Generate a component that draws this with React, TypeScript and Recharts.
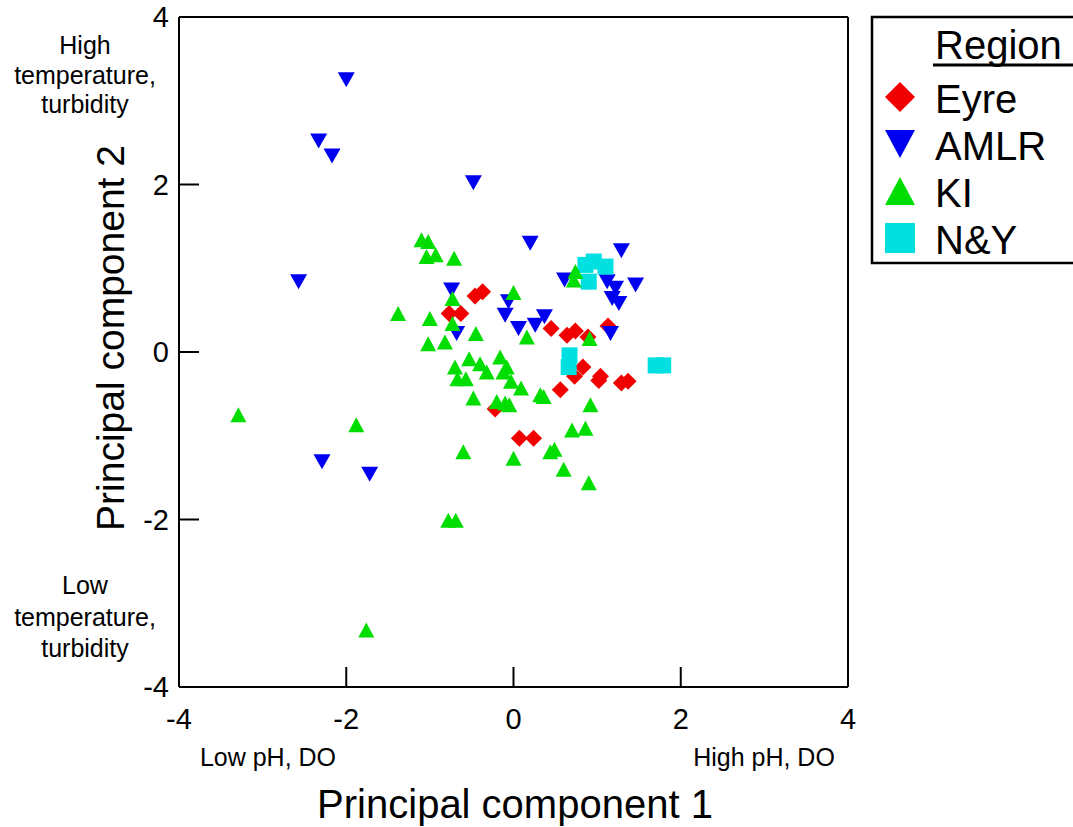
import { ScatterChart, Scatter, XAxis, YAxis, Customized } from 'recharts'

const FONT = '"Liberation Sans", Arial, Helvetica, sans-serif'

// axis ticks shared by all four sides of the frame
const axisTicks = [-4, -2, 0, 2, 4]

// PCA scores read off the figure, one list per region
const eyre = [
  { x: -0.46, y: 0.67 }, { x: -0.37, y: 0.72 }, { x: -0.77, y: 0.46 }, { x: -0.63, y: 0.46 },
  { x: 0.45, y: 0.28 }, { x: 0.64, y: 0.2 }, { x: 0.74, y: 0.25 }, { x: 0.89, y: 0.18 },
  { x: 1.13, y: 0.31 }, { x: 0.83, y: -0.18 }, { x: 0.73, y: -0.29 }, { x: 1.04, y: -0.29 },
  { x: 1.02, y: -0.34 }, { x: 1.29, y: -0.37 }, { x: 1.37, y: -0.35 }, { x: 0.56, y: -0.45 },
  { x: -0.22, y: -0.68 }, { x: 0.07, y: -1.03 }, { x: 0.24, y: -1.03 },
]

const amlr = [
  { x: -2.0, y: 3.25 }, { x: -2.33, y: 2.52 }, { x: -2.17, y: 2.34 }, { x: -0.48, y: 2.02 },
  { x: -2.57, y: 0.84 }, { x: 0.2, y: 1.3 }, { x: 1.29, y: 1.21 }, { x: 0.61, y: 0.86 },
  { x: 1.12, y: 0.84 }, { x: 1.22, y: 0.76 }, { x: 1.46, y: 0.8 }, { x: 1.18, y: 0.64 },
  { x: 1.26, y: 0.58 }, { x: -0.74, y: 0.74 }, { x: -0.06, y: 0.6 }, { x: -0.1, y: 0.44 },
  { x: 0.06, y: 0.28 }, { x: 0.26, y: 0.32 }, { x: 0.37, y: 0.42 }, { x: -0.68, y: 0.22 },
  { x: 1.16, y: 0.22 }, { x: -2.29, y: -1.31 }, { x: -1.72, y: -1.46 },
]

const ki = [
  { x: -3.29, y: -0.75 }, { x: -1.88, y: -0.87 }, { x: -0.78, y: -2.01 }, { x: -0.69, y: -2.01 },
  { x: -1.76, y: -3.32 }, { x: -0.6, y: -1.19 }, { x: -1.1, y: 1.34 }, { x: -1.02, y: 1.32 },
  { x: -1.04, y: 1.14 }, { x: -0.93, y: 1.16 }, { x: -0.71, y: 1.12 }, { x: 0.74, y: 0.96 },
  { x: 0.72, y: 0.86 }, { x: -0.73, y: 0.64 }, { x: 0.0, y: 0.71 }, { x: -1.38, y: 0.46 },
  { x: -1.0, y: 0.4 }, { x: -0.73, y: 0.34 }, { x: -1.02, y: 0.1 }, { x: -0.82, y: 0.12 },
  { x: -0.45, y: 0.22 }, { x: 0.16, y: 0.18 }, { x: 0.91, y: 0.16 }, { x: -0.7, y: -0.18 },
  { x: -0.53, y: -0.08 }, { x: -0.4, y: -0.14 }, { x: -0.32, y: -0.24 }, { x: -0.16, y: -0.06 },
  { x: -0.08, y: -0.18 }, { x: -0.12, y: -0.24 }, { x: -0.03, y: -0.35 }, { x: -0.67, y: -0.32 },
  { x: -0.57, y: -0.32 }, { x: 0.09, y: -0.43 }, { x: -0.48, y: -0.55 }, { x: -0.2, y: -0.59 },
  { x: -0.1, y: -0.61 }, { x: -0.05, y: -0.63 }, { x: 0.32, y: -0.51 }, { x: 0.36, y: -0.53 },
  { x: 0.92, y: -0.63 }, { x: 0.7, y: -0.93 }, { x: 0.86, y: -0.91 }, { x: 0.0, y: -1.27 },
  { x: 0.44, y: -1.19 }, { x: 0.49, y: -1.16 }, { x: 0.6, y: -1.4 }, { x: 0.9, y: -1.56 },
]

const ny = [
  { x: 0.86, y: 1.04 }, { x: 0.96, y: 1.08 }, { x: 1.1, y: 1.02 }, { x: 0.9, y: 0.84 },
  { x: 0.67, y: -0.04 }, { x: 0.66, y: -0.18 }, { x: 1.7, y: -0.16 }, { x: 1.79, y: -0.16 },
]

const RED = '#f00000'
const BLUE = '#0000f0'
const GREEN = '#00dd00'
const CYAN = '#00e0e0'

// marker paths, s = full width of the marker
const diamondPath = (cx: number, cy: number, s: number) =>
  `M${cx},${cy - s / 2}L${cx + s / 2},${cy}L${cx},${cy + s / 2}L${cx - s / 2},${cy}Z`
const upPath = (cx: number, cy: number, s: number, h: number) =>
  `M${cx},${cy - h / 2}L${cx + s / 2},${cy + h / 2}L${cx - s / 2},${cy + h / 2}Z`
const downPath = (cx: number, cy: number, s: number, h: number) =>
  `M${cx},${cy + h / 2}L${cx + s / 2},${cy - h / 2}L${cx - s / 2},${cy - h / 2}Z`

const DiamondDot = (p: any) => <path d={diamondPath(p.cx, p.cy, 17)} fill={RED} />
const DownDot = (p: any) => <path d={downPath(p.cx, p.cy, 17, 15)} fill={BLUE} />
const UpDot = (p: any) => <path d={upPath(p.cx, p.cy, 16, 15)} fill={GREEN} />
const SquareDot = (p: any) => <rect x={p.cx - 8} y={p.cy - 8} width={16} height={16} fill={CYAN} />

const TICK = 20

const BottomTick = ({ x, y, payload }: any) => (
  <g>
    <line x1={x} y1={y} x2={x} y2={y - TICK} stroke="#000" strokeWidth={2} />
    <text x={x} y={y + 32} dy="0.35em" textAnchor="middle" fontSize={29} fontFamily={FONT} fill="#000">
      {payload.value}
    </text>
  </g>
)
const TopTick = ({ x, y }: any) => (
  <line x1={x} y1={y} x2={x} y2={y + TICK} stroke="#000" strokeWidth={2} />
)
const LeftTick = ({ x, y, payload }: any) => (
  <g>
    <line x1={x} y1={y} x2={x + TICK} y2={y} stroke="#000" strokeWidth={2} />
    <text x={x - 10} y={y} dy="0.35em" textAnchor="end" fontSize={29} fontFamily={FONT} fill="#000">
      {payload.value}
    </text>
  </g>
)
const RightTick = ({ x, y }: any) => (
  <line x1={x} y1={y} x2={x - TICK} y2={y} stroke="#000" strokeWidth={2} />
)

const legendItems = [
  { name: 'Eyre', kind: 'diamond', color: RED },
  { name: 'AMLR', kind: 'down', color: BLUE },
  { name: 'KI', kind: 'up', color: GREEN },
  { name: 'N&Y', kind: 'square', color: CYAN },
]

const Annotations = () => {
  const t = { fontFamily: FONT, fill: '#000' }
  return (
    <g>
      <text x={85} textAnchor="middle" fontSize={25} {...t}>
        <tspan x={85} y={54}>High</tspan>
        <tspan x={85} y={84}>temperature,</tspan>
        <tspan x={85} y={113}>turbidity</tspan>
      </text>
      <text x={85} textAnchor="middle" fontSize={25} {...t}>
        <tspan x={85} y={594}>Low</tspan>
        <tspan x={85} y={626}>temperature,</tspan>
        <tspan x={85} y={657}>turbidity</tspan>
      </text>
      <text x={268} y={766} textAnchor="middle" fontSize={25} {...t}>Low pH, DO</text>
      <text x={764} y={766} textAnchor="middle" fontSize={25} {...t}>High pH, DO</text>
      <text x={515} y={818} textAnchor="middle" fontSize={40} {...t}>Principal component 1</text>
      <text
        x={124}
        y={338}
        textAnchor="middle"
        fontSize={39}
        transform="rotate(-90, 124, 338)"
        {...t}
      >
        Principal component 2
      </text>

      {/* legend box */}
      <rect x={872} y={17} width={220} height={246} fill="#fff" stroke="#000" strokeWidth={2.5} />
      <text x={935} y={59} fontSize={40} {...t}>Region</text>
      <line x1={933} y1={65} x2={1080} y2={65} stroke="#000" strokeWidth={3} />
      {legendItems.map((it, i) => {
        const cy = 97 + i * 47
        let mark
        if (it.kind === 'diamond') mark = <path d={diamondPath(900, cy, 30)} fill={it.color} />
        else if (it.kind === 'down') mark = <path d={downPath(900, cy, 30, 28)} fill={it.color} />
        else if (it.kind === 'up') mark = <path d={upPath(900, cy, 30, 28)} fill={it.color} />
        else mark = <rect x={885} y={cy - 15} width={30} height={30} fill={it.color} />
        return (
          <g key={it.name}>
            {mark}
            <text x={935} y={cy + 16} fontSize={40} {...t}>{it.name}</text>
          </g>
        )
      })}
    </g>
  )
}

export default function App() {
  const axisLine = { stroke: '#000', strokeWidth: 2 }
  return (
    <div style={{ position: 'absolute', left: 0, top: 0, background: '#fff' }}>
      <ScatterChart
        width={1073}
        height={827}
        margin={{ top: 16, right: 224, bottom: 139, left: 178 }}
      >
        <XAxis
          type="number"
          dataKey="x"
          domain={[-4, 4]}
          ticks={axisTicks}
          height={1}
          tickSize={0}
          tickMargin={0}
          tickLine={false}
          axisLine={axisLine}
          tick={<BottomTick />}
          allowDataOverflow
        />
        <XAxis
          xAxisId="top"
          orientation="top"
          type="number"
          domain={[-4, 4]}
          ticks={axisTicks}
          height={1}
          tickSize={0}
          tickMargin={0}
          tickLine={false}
          axisLine={axisLine}
          tick={<TopTick />}
        />
        <YAxis
          type="number"
          dataKey="y"
          domain={[-4, 4]}
          ticks={axisTicks}
          width={1}
          tickSize={0}
          tickMargin={0}
          tickLine={false}
          axisLine={axisLine}
          tick={<LeftTick />}
          allowDataOverflow
        />
        <YAxis
          yAxisId="right"
          orientation="right"
          type="number"
          domain={[-4, 4]}
          ticks={axisTicks}
          width={1}
          tickSize={0}
          tickMargin={0}
          tickLine={false}
          axisLine={axisLine}
          tick={<RightTick />}
        />
        <Scatter name="Eyre" data={eyre} shape={DiamondDot} isAnimationActive={false} />
        <Scatter name="AMLR" data={amlr} shape={DownDot} isAnimationActive={false} />
        <Scatter name="N&Y" data={ny} shape={SquareDot} isAnimationActive={false} />
        <Scatter name="KI" data={ki} shape={UpDot} isAnimationActive={false} />
        <Customized component={Annotations} />
      </ScatterChart>
    </div>
  )
}
